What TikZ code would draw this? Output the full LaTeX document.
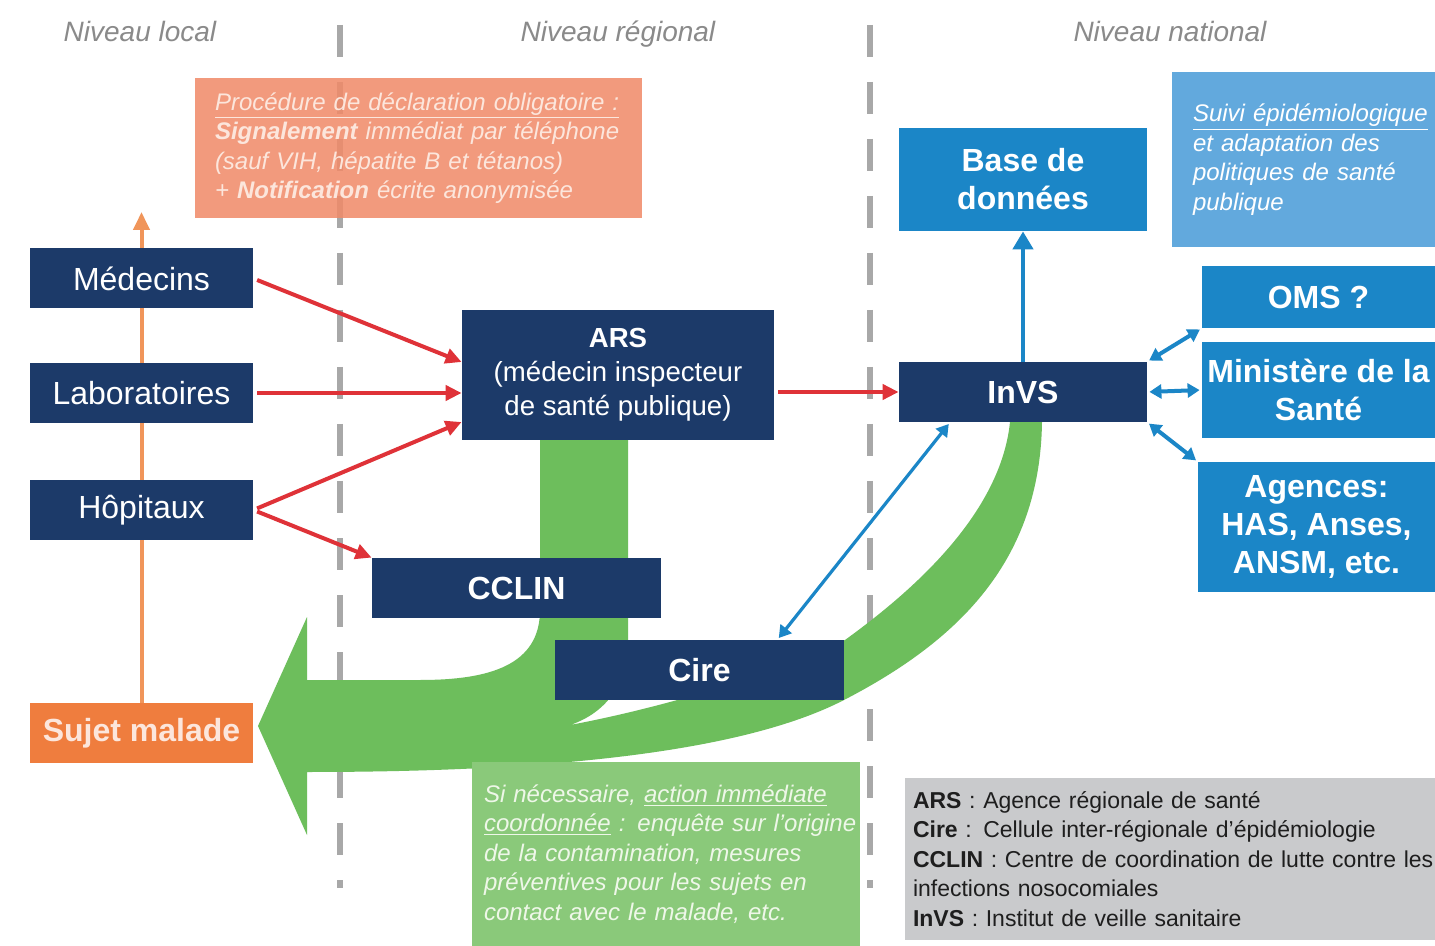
\documentclass[tikz,border=0pt]{standalone}
\usepackage{fontspec}
\setmainfont{Liberation Sans}
\usepackage{tikz}
\usetikzlibrary{arrows.meta, backgrounds}

\definecolor{navy}{HTML}{1C3A69}
\definecolor{midblue}{HTML}{1B86C7}
\definecolor{paleblue}{HTML}{62A9DD}
\definecolor{salmon}{HTML}{F18A68}
\definecolor{salmontext}{HTML}{FCE6DC}
\definecolor{sickorange}{HTML}{EF7D3E}
\definecolor{alertorange}{HTML}{F0955A}
\definecolor{alertred}{HTML}{DF3238}
\definecolor{arrowgreen}{HTML}{6DBE5C}
\definecolor{palegreen}{HTML}{8AC97A}
\definecolor{greentext}{HTML}{EEF7E8}
\definecolor{legendgray}{HTML}{C9CACC}
\definecolor{legendtext}{HTML}{1E1E1E}
\definecolor{dashgray}{HTML}{A8A8A8}
\definecolor{levelgray}{HTML}{8A8A8A}

\newcommand{\boxfont}{\fontsize{16}{19}\selectfont}
\newcommand{\notefont}{\fontsize{12}{14.75}\selectfont}

\tikzstyle{levellabel} = [font=\fontsize{14}{16}\selectfont\itshape, text=levelgray, anchor=base]
\tikzstyle{separator} = [draw=dashgray, line width=3pt, dash pattern=on 16pt off 12.5pt]
\tikzstyle{actor} = [rectangle, fill=navy, text=white, font=\boxfont, align=center, inner sep=0pt, minimum width=111.5pt, minimum height=30pt]
\tikzstyle{partner} = [rectangle, fill=midblue, text=white, font=\boxfont\bfseries, align=center, inner sep=0pt]
\tikzstyle{notebox} = [rectangle, font=\notefont\itshape, align=left, inner sep=0pt]
\tikzstyle{notify} = [line width=2pt, draw=alertred, -{Triangle[length=8pt,width=7.5pt]}, shorten <=2pt]
\tikzstyle{feed} = [line width=2.2pt, draw=midblue, -{Triangle[length=9pt,width=10pt]}]
\tikzstyle{exchange} = [line width=2pt, draw=midblue, {Triangle[length=6pt,width=7pt]}-{Triangle[length=6pt,width=7pt]}, shorten <=1pt, shorten >=1pt]
\tikzstyle{alertline} = [line width=2pt, draw=alertorange, -{Triangle[length=9pt,width=8pt]}]

\begin{document}
\begin{tikzpicture}[x=0.5pt, y=-0.5pt]
    \useasboundingbox (0,0) rectangle (1435,946);

    % Levels
    \node (local) [levellabel] at (140,42) {Niveau local};
    \node (regional) [levellabel] at (618,42) {Niveau régional};
    \node (national) [levellabel] at (1170,42) {Niveau national};

    % Notes
    \node (procedure) [notebox, fill=salmon, fill opacity=0.86, text opacity=1, text=salmontext, text width=223.5pt, minimum height=70pt] at (418.5,148)
        {\leftskip=10pt \underline{Procédure de déclaration obligatoire :}\\ \textbf{Signalement} immédiat par téléphone\\ (sauf VIH, hépatite B et tétanos)\\ + \textbf{Notification} écrite anonymisée\par};
    \node (suivi) [notebox, fill=paleblue, text=white, text width=131.5pt, minimum height=87.5pt] at (1303.5,159.5)
        {\leftskip=10.5pt \underline{Suivi épidémiologique}\\ et adaptation des\\ politiques de santé\\ publique\par};

    % Local level
    \node (medecins) [actor] at (141.5,278.5) {Médecins};
    \node (labos) [actor] at (141.5,393) {Laboratoires};
    \node (hopitaux) [actor] at (141.5,510) {Hôpitaux};
    \node (malade) [actor, fill=sickorange, text=salmontext, font=\boxfont\bfseries] at (141.5,733) {Sujet malade};

    % Regional level
    \node (ars) [actor, minimum width=156pt, minimum height=65pt, font=\fontsize{13.8}{17}\selectfont] at (618,375) {\textbf{ARS}\\(médecin inspecteur\\de santé publique)};
    \node (cclin) [actor, minimum width=144.5pt, font=\boxfont\bfseries] at (516.5,588) {CCLIN};
    \node (cire) [actor, minimum width=144.5pt, font=\boxfont\bfseries] at (699.5,670) {Cire};

    % National level
    \node (invs) [actor, minimum width=124pt, font=\boxfont\bfseries] at (1023,392) {InVS};
    \node (base) [partner, minimum width=124pt, minimum height=51.5pt] at (1023,179.5) {Base de\\données};
    \node (oms) [partner, minimum width=116.5pt, minimum height=31pt] at (1318.5,297) {OMS ?};
    \node (ministere) [partner, minimum width=116.5pt, minimum height=48pt] at (1318.5,390) {Ministère de la\\Santé};
    \node (agences) [partner, minimum width=118.5pt, minimum height=65pt] at (1316.5,527) {Agences:\\HAS, Anses,\\ANSM, etc.};

    % Action and legend
    \node (action) [notebox, fill=palegreen, text=greentext, text width=194pt, minimum height=92pt] at (666,854)
        {\leftskip=6pt Si nécessaire, \underline{action immédiate}\\ \underline{coordonnée} : enquête sur l’origine\\ de la contamination, mesures\\ préventives pour les sujets en\\ contact avec le malade, etc.\par};
    \node (legend) [notebox, fill=legendgray, text=legendtext, font=\fontsize{11.5}{14.75}\selectfont, text width=265pt, minimum height=81pt] at (1170,859)
        {\leftskip=4pt \textbf{ARS} : Agence régionale de santé\\ \textbf{Cire} : Cellule inter-régionale d’épidémiologie\\ \textbf{CCLIN} : Centre de coordination de lutte contre les\\ infections nosocomiales\\ \textbf{InVS} : Institut de veille sanitaire\par};

    % Arrows
    \draw [notify] (medecins.east) -- ([yshift=6.5pt]ars.west);
    \draw [notify] (labos.east) -- (labos.east -| ars.west);
    \draw [notify] (hopitaux.east) -- ([yshift=-23.5pt]ars.west);
    \draw [notify] (hopitaux.east) -- (cclin.north west);
    \draw [notify] (ars.east |- invs.west) -- (invs.west);
    \draw [feed] (invs) -- (base);
    \draw [exchange, line width=1.6pt] ([xshift=-36.5pt]invs.south) -- ([xshift=39pt]cire.north);
    \draw [exchange] (invs.north east) -- (oms.south west);
    \draw [exchange] (invs.east) -- (ministere.west);
    \draw [exchange] (invs.south east) -- (agences.north west);

    \coordinate (alerttip) at (141.5,212);
    \begin{scope}[on background layer]
        \fill [white] (0,0) rectangle (1435,946);
        \draw [separator] (340,25) -- (340,888);
        \draw [separator] (870,25) -- (870,888);
        % Return flow
        \fill [arrowgreen] (540,440) -- (540,610) .. controls (540,665) and (490,680) .. (420,680) -- (307,680) -- (307,617) -- (258,726) -- (307,835) -- (307,772)
            .. controls (500,772) and (728,760) .. (844,700) .. controls (960,640) and (1040,560) .. (1042,422) -- (1010,422)
            .. controls (1000,520) and (900,600) .. (845,640) .. controls (760,680) and (650,710) .. (570,725)
            .. controls (600,715) and (628,690) .. (628,640) -- (628,440) -- cycle;
        \draw [alertline] (malade) -- (alerttip);
    \end{scope}
\end{tikzpicture}
\end{document}
